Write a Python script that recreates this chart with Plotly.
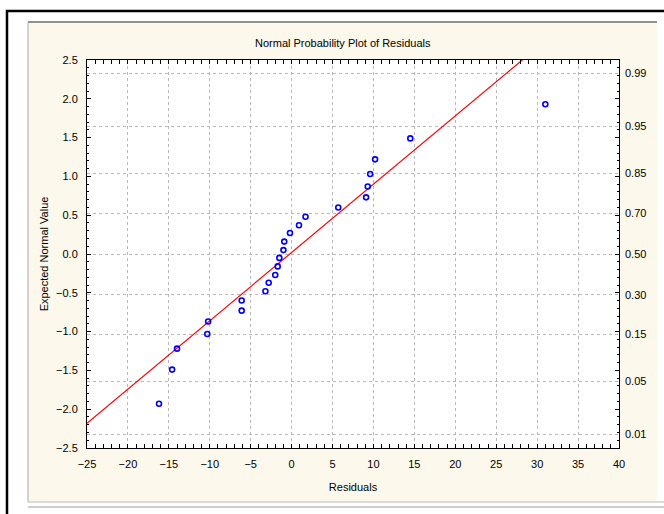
import statistics
import plotly.graph_objects as go

# Residuals (sorted) and their expected normal scores
residuals = [-16.2, -14.6, -14.0, -10.3, -10.2, -6.1, -6.1, -3.2, -2.8, -2.0, -1.7, -1.5,
             -1.0, -0.9, -0.2, 0.9, 1.7, 5.7, 9.1, 9.3, 9.6, 10.2, 14.5, 31.0]
expected = [-1.93, -1.49, -1.22, -1.03, -0.87, -0.73, -0.60, -0.48, -0.37, -0.27, -0.16, -0.05,
            0.05, 0.16, 0.27, 0.37, 0.48, 0.60, 0.73, 0.87, 1.03, 1.22, 1.49, 1.93]

# Reference line: expected = intercept + slope * residual
line_intercept = 0.02
line_slope = 0.088
line_x = [-25, 40]

# Cumulative probability labels on the right axis
prob_labels = ["0.99", "0.95", "0.85", "0.70", "0.50", "0.30", "0.15", "0.05", "0.01"]

W, H = 664, 514
L, R, T, B = 87, 619, 60, 448
nd = statistics.NormalDist()


def px(x):
    return (x - L) / (R - L)


def py(y):
    return (B - y) / (B - T)


fig = go.Figure()

fig.add_trace(go.Scatter(
    x=line_x, y=[line_intercept + line_slope * v for v in line_x],
    mode="lines", line=dict(color="#ff0000", width=1.2), hoverinfo="skip"))

fig.add_trace(go.Scatter(
    x=residuals, y=expected, mode="markers",
    marker=dict(symbol="circle-open", size=5, color="#0000ff", line=dict(width=1.6, color="#0000ff"))))

# empty trace so the probability axis is rendered
fig.add_trace(go.Scatter(x=[None], y=[None], yaxis="y2", mode="markers", hoverinfo="skip"))

grid = "#b8b8b8"
fig.update_layout(
    width=W, height=H,
    margin=dict(l=L, r=W - R, t=T, b=H - B),
    paper_bgcolor="white", plot_bgcolor="white",
    showlegend=False,
    font=dict(family="Liberation Sans", size=11, color="black"),
    xaxis=dict(
        range=[-25, 40], tick0=0, dtick=5, ticks="inside", ticklen=4, tickcolor="black",
        minor=dict(dtick=1, ticks="inside", ticklen=2, tickcolor="black", showgrid=False),
        showgrid=True, gridcolor=grid, griddash="dot", gridwidth=1,
        showline=True, linecolor="black", linewidth=1, mirror="allticks", zeroline=False,
        ticklabelstandoff=6,
        title=dict(text="Residuals", standoff=14, font=dict(size=11)),
    ),
    yaxis=dict(
        range=[-2.5, 2.5], tick0=0, dtick=0.5, tickformat=".1f", ticks="inside", ticklen=4,
        tickcolor="black",
        minor=dict(dtick=0.1, ticks="inside", ticklen=2, tickcolor="black", showgrid=False),
        showgrid=False, showline=True, linecolor="black", linewidth=1, mirror="allticks",
        zeroline=False, ticklabelstandoff=6,
        title=dict(text="Expected Normal Value", standoff=5, font=dict(size=11)),
    ),
    yaxis2=dict(
        overlaying="y", side="right", range=[-2.5, 2.5],
        tickmode="array", tickvals=[nd.inv_cdf(float(p)) for p in prob_labels], ticktext=prob_labels,
        ticks="", showgrid=True, gridcolor=grid, griddash="dot", gridwidth=1,
        showline=False, zeroline=False, ticklabelstandoff=5,
    ),
)

# window frame, cream panel and white plotting area
shapes = [
    dict(type="rect", x0=px(7), x1=px(700), y0=py(11), y1=py(560),
         line=dict(color="black", width=2.5), fillcolor="white"),
    dict(type="rect", x0=px(28), x1=px(657), y0=py(22), y1=py(502),
         line=dict(width=0), fillcolor="#fdf8ec"),
    dict(type="line", x0=px(28), x1=px(657), y0=py(22), y1=py(22),
         line=dict(color="#6e6e6e", width=1.5)),
    dict(type="line", x0=px(28), x1=px(28), y0=py(22), y1=py(502),
         line=dict(color="#a8a8a8", width=1)),
    dict(type="line", x0=px(28), x1=px(664), y0=py(502), y1=py(502),
         line=dict(color="#cfcfcf", width=1.5)),
    dict(type="line", x0=px(28), x1=px(664), y0=py(507), y1=py(507),
         line=dict(color="#bdbdbd", width=1.5)),
    dict(type="rect", x0=0, x1=1, y0=0, y1=1, line=dict(width=0), fillcolor="white"),
]
for s in shapes:
    s.update(xref="paper", yref="paper", layer="below")
fig.update_layout(shapes=shapes)

fig.add_annotation(
    text="Normal Probability Plot of Residuals", xref="paper", yref="paper",
    x=px(343), y=py(43), xanchor="center", yanchor="middle", showarrow=False,
    font=dict(size=11, color="black"))

fig.write_html("out.html")
